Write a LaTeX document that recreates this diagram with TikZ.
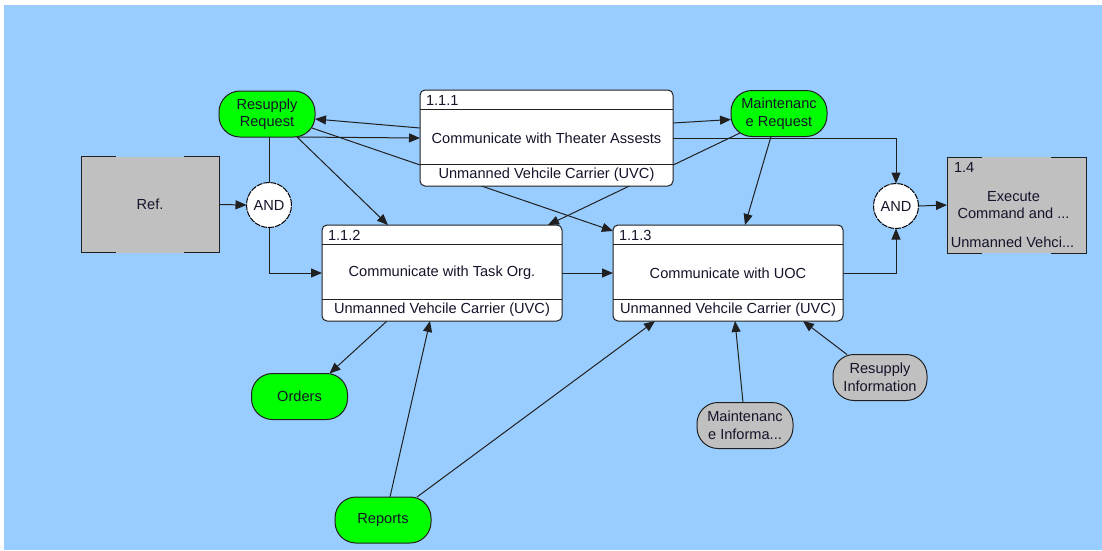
\documentclass[tikz,border=0pt]{standalone}
\usepackage{fontspec}
\setmainfont{Liberation Sans}
\usetikzlibrary{arrows.meta,calc}
\pgfdeclarelayer{bg}
\pgfdeclarelayer{edges}
\pgfsetlayers{bg,edges,main}
\definecolor{sky}{HTML}{99CCFF}
\definecolor{flowgreen}{HTML}{00FF00}
\definecolor{refgray}{HTML}{C0C0C0}
\definecolor{ink}{HTML}{14142A}
\definecolor{edgeclr}{HTML}{202020}

\begin{document}
\begin{tikzpicture}[x=1pt,y=-1pt,
  every node/.style={font=\fontsize{14.6}{17.5}\selectfont, text=ink, inner sep=0pt, outer sep=0pt},
  flow/.style={draw=edgeclr, line width=1pt, -{Triangle[length=11pt,width=9pt]}},
  link/.style={draw=edgeclr, line width=1pt},
  procbox/.style={draw=edgeclr, line width=1pt, fill=white, rounded corners=5pt, minimum height=96pt},
  refbox/.style={fill=refgray, minimum height=96pt},
  andgate/.style={circle, draw=black, fill=white, line width=1pt, dash pattern=on 6pt off 1pt, minimum size=45pt},
  item/.style={draw=edgeclr, line width=1pt, rounded corners=21pt, minimum width=96pt, minimum height=46pt, align=center},
  outitem/.style={item, fill=flowgreen},
  initem/.style={item, fill=refgray},
]
\useasboundingbox (0,0) rectangle (1102,550);
\begin{pgfonlayer}{bg}
  \fill[white] (0,0) rectangle (1102,550);
  \fill[sky] (4,5) rectangle (1102,550);
\end{pgfonlayer}

% reference and function blocks
\node[refbox, minimum width=138pt] (ref) at (150,204.5) {Ref.};
\draw[link] ([xshift=35pt]ref.north west) -- (ref.north west) -- (ref.south west) -- ([xshift=35pt]ref.south west);
\draw[link] ([xshift=-35pt]ref.north east) -- (ref.north east) -- (ref.south east) -- ([xshift=-35pt]ref.south east);

\node[refbox, minimum width=139pt] (p14) at (1016.5,205) {};
\draw[link] ([xshift=35pt]p14.north west) -- (p14.north west) -- (p14.south west) -- ([xshift=35pt]p14.south west);
\draw[link] ([xshift=-35pt]p14.north east) -- (p14.north east) -- (p14.south east) -- ([xshift=-35pt]p14.south east);
\node[anchor=west] (p14id) at ([xshift=7pt,yshift=-10pt]p14.north west) {1.4};
\node[align=center] (p14name) at ([xshift=-3pt]p14.center) {Execute\\Command and ...};
\node (p14who) at ([xshift=-4pt,yshift=11pt]p14.south) {Unmanned Vehci...};

\node[procbox, minimum width=253pt] (p111) at (546.5,138) {Communicate with Theater Assests};
\node[procbox, minimum width=240pt] (p112) at (442,273) {Communicate with Task Org.};
\node[procbox, minimum width=230pt] (p113) at (728,273) {Communicate with UOC};
\foreach \b/\id in {p111/1.1.1, p112/1.1.2, p113/1.1.3}{
  \draw[link] ([yshift=-19pt]\b.north west) -- ([yshift=-19pt]\b.north east);
  \draw[link] ([yshift=22pt]\b.south west) -- ([yshift=22pt]\b.south east);
  \node[anchor=west] (\b id) at ([xshift=6pt,yshift=-10pt]\b.north west) {\id};
  \node (\b who) at ([yshift=11pt]\b.south) {Unmanned Vehcile Carrier (UVC)};
}

% junctions
\node[andgate] (and1) at (269,205) {AND};
\node[andgate] (and2) at (896,206) {AND};

% items
\node[outitem] (rr) at (267,114) {Resupply\\Request};
\node[outitem] (mr) at (779,113.5) {Maintenanc\\e Request};
\node[outitem] (orders) at (299.5,396.5) {Orders};
\node[outitem] (reports) at (383,520) {Reports};
\node[initem] (mi) at (745,425.5) {Maintenanc\\e Informa...};
\node[initem, minimum width=94pt] (ri) at (880,377.5) {Resupply\\Information};

% connectors
\begin{pgfonlayer}{edges}
  \draw[flow] (ref.east) -- (and1.west);
  \draw[link] (rr.south -| and1.north) -- (and1.north);
  \draw[flow] (and1.south) |- (p112.west);
  \draw[flow] ([yshift=10pt]p111.west) -- ([yshift=-5pt]rr.east);
  \draw[flow] ([xshift=30pt]rr.south) -- (p111.west);
  \draw[flow] ([shift={(45,14)}]rr.center) -- ([yshift=-6pt]p113.north west);
  \draw[flow] ([xshift=30pt]rr.south) -- ([xshift=-54pt]p112.north);
  \draw[flow] ([yshift=15pt]p111.east) -- ([yshift=-6pt]mr.west);
  \draw[flow] (p111.east) -| (and2.north);
  \draw[flow] ([shift={(-39,19.5)}]mr.center) -- ([xshift=-14pt]p112.north east);
  \draw[flow] ([xshift=-8pt]mr.south) -- ([xshift=17pt]p113.north);
  \draw[flow] (and2.east) -- (p14.west);
  \draw[flow] (p112.east) -- (p113.west);
  \draw[flow] (p113.east) -| (and2.south);
  \draw[flow] ([xshift=-55pt]p112.south) -- ([xshift=30pt]orders.north);
  \draw[flow] ([xshift=7pt]reports.north) -- ([xshift=-12pt]p112.south);
  \draw[flow] ([xshift=34pt]reports.north) -- ([xshift=-73pt]p113.south);
  \draw[flow] ([xshift=-2pt]mi.north) -- ([xshift=7pt]p113.south);
  \draw[flow] ([xshift=-33pt]ri.north) -- ([xshift=75pt]p113.south);
\end{pgfonlayer}
\end{tikzpicture}
\end{document}
